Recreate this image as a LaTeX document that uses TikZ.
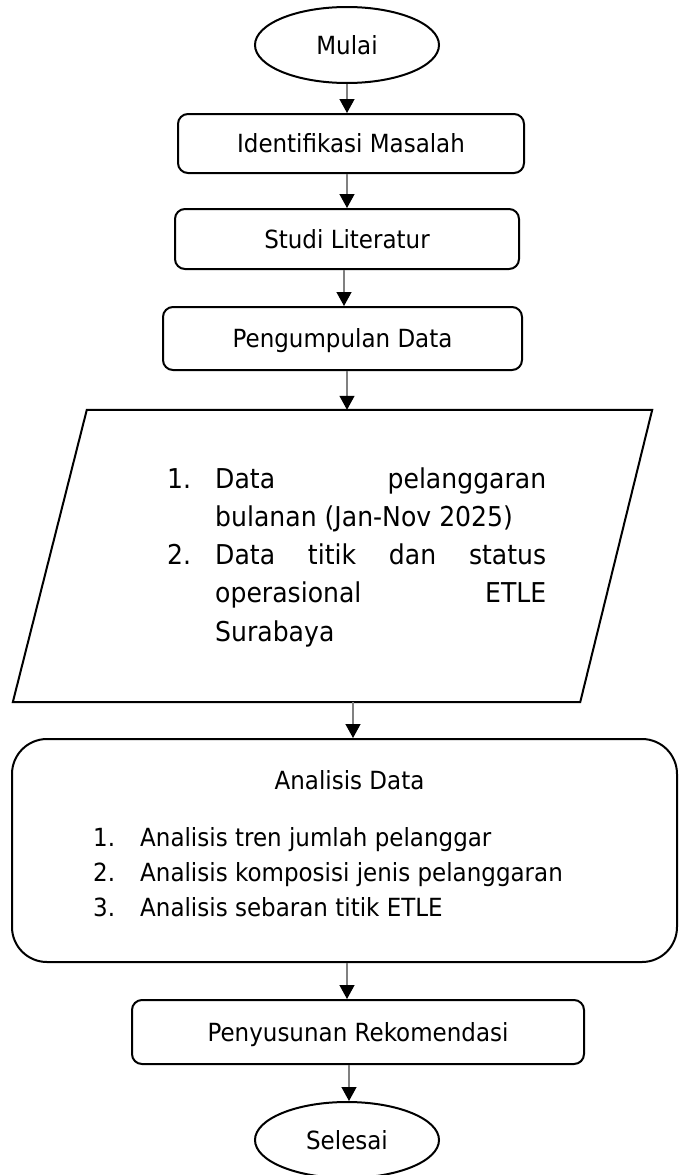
\documentclass[tikz,border=0pt]{standalone}
\usepackage{fontspec}
\setmainfont{DejaVu Sans}[FakeStretch=0.92]
\usetikzlibrary{arrows.meta,shapes.geometric}

\tikzset{
  every node/.style={font=\fontsize{25}{38}\selectfont, inner sep=0pt},
  outline/.style={draw=black, line width=2pt},
  stepbox/.style={outline, rounded corners=10pt, text height=18.3pt, text depth=0pt},
  terminal/.style={outline, ellipse, minimum width=184pt, minimum height=76pt,
                   text height=18.3pt, text depth=0pt},
  flow/.style={draw=gray, line width=1.3pt,
               -{Triangle[width=15pt,length=14pt,color=black,fill=black]}},
}

\begin{document}
\begin{tikzpicture}[x=1pt,y=-1pt]
\useasboundingbox (0,0) rectangle (679,1175);

% start / end terminals and process boxes
\node[terminal] (mulai) at (347,45) {Mulai};
\node[stepbox, minimum width=346pt, minimum height=59pt] (ident) at (351,143.5) {Identifikasi Masalah};
\node[stepbox, minimum width=344pt, minimum height=60pt] (studi) at (347,239) {Studi Literatur};
\node[stepbox, minimum width=359pt, minimum height=63pt] (kumpul) at (342.5,338.5) {Pengumpulan Data};

% data input (parallelogram)
\node[minimum width=639pt, minimum height=292pt] (data) at (332.5,556) {};
\draw[outline] ([xshift=74pt]data.north west) -- (data.north east)
  -- ([xshift=-72pt]data.south east) -- (data.south west) -- cycle;
\node[anchor=base west] (datalist) at (167,488) {\parbox[t]{379pt}{%
  \fontsize{27.3}{38.3}\selectfont
  \makebox[48pt][l]{1.}\makebox[331pt][s]{Data pelanggaran}\\
  \hspace*{48pt}bulanan (Jan-Nov 2025)\\
  \makebox[48pt][l]{2.}\makebox[331pt][s]{Data titik dan status}\\
  \hspace*{48pt}\makebox[331pt][s]{operasional ETLE}\\
  \hspace*{48pt}Surabaya}};

% analysis block
\node[outline, rounded corners=35pt, minimum width=665pt, minimum height=223pt] (analisis) at (344.5,850.5) {};
\node[text height=18.3pt, text depth=0pt] (analisistitle) at (349.5,780) {Analisis Data};
\node[anchor=base west] (analisislist) at (93,846) {\parbox[t]{520pt}{%
  \fontsize{25}{35}\selectfont
  \makebox[47pt][l]{1.}Analisis tren jumlah pelanggar\\
  \makebox[47pt][l]{2.}Analisis komposisi jenis pelanggaran\\
  \makebox[47pt][l]{3.}Analisis sebaran titik ETLE}};

\node[stepbox, minimum width=452pt, minimum height=64pt] (susun) at (358,1032) {Penyusunan Rekomendasi};
\node[terminal] (selesai) at (347,1140) {Selesai};

% connectors
\draw[flow] (mulai.south) -- (mulai.south |- ident.north);
\draw[flow] ([xshift=-4pt]ident.south) -- ([xshift=-4pt]ident.south |- studi.north);
\draw[flow] ([xshift=-3pt]studi.south) -- ([xshift=-3pt]studi.south |- kumpul.north);
\draw[flow] ([xshift=4.5pt]kumpul.south) -- ([xshift=4.5pt]kumpul.south |- data.north);
\draw[flow] ([xshift=20.5pt]data.south) -- ([xshift=20.5pt]data.south |- analisis.north);
\draw[flow] ([xshift=2.5pt]analisis.south) -- ([xshift=2.5pt]analisis.south |- susun.north);
\draw[flow] ([xshift=-9pt]susun.south) -- ([xshift=-9pt]susun.south |- selesai.north);
\end{tikzpicture}
\end{document}
